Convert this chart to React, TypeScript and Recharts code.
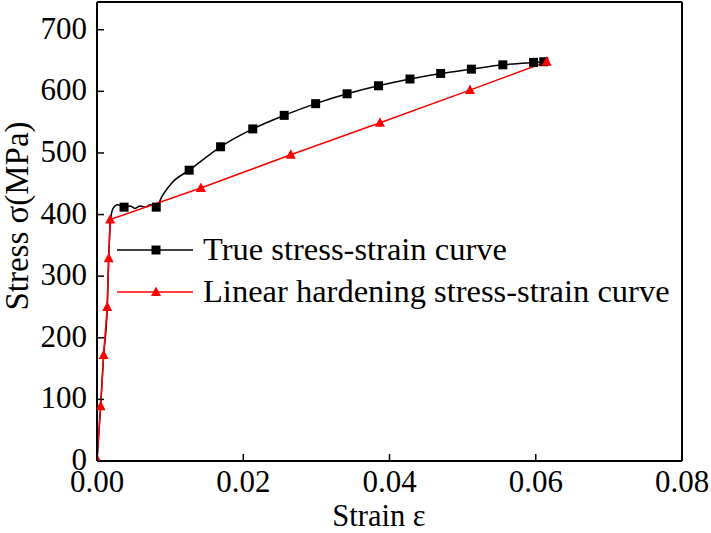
import { LineChart, Line, XAxis, YAxis } from 'recharts';

const strainTicks = [0, 0.02, 0.04, 0.06, 0.08];
const stressTicks = [0, 100, 200, 300, 400, 500, 600, 700];

// true curve
const trueStrain = [
  0, 0.0005, 0.0009, 0.0014, 0.0016, 0.0019, 0.0022, 0.0028, 0.0037, 0.0045,
  0.0052, 0.0059, 0.0066, 0.0073, 0.0081, 0.0089, 0.0102, 0.0126, 0.0169,
  0.0213, 0.0256, 0.0299, 0.0342, 0.0385, 0.0428, 0.047, 0.0512, 0.0555,
  0.0597, 0.0611,
];
const trueStress = [
  0, 90, 170, 250, 330, 395, 410, 416, 412, 414, 410, 414, 412, 416, 412, 430,
  451, 472, 510, 539, 561, 580, 596, 609, 620, 629, 636, 643, 647, 648,
];
// strains where the square symbols sit
const trueSymbols = [
  0.0037, 0.0081, 0.0126, 0.0169, 0.0213, 0.0256, 0.0299, 0.0342, 0.0385,
  0.0428, 0.047, 0.0512, 0.0555, 0.0597, 0.0611,
];

// linear hardening curve
const linStrain = [0, 0.0005, 0.0009, 0.0014, 0.0016, 0.0018, 0.0142, 0.0265, 0.0387, 0.051, 0.0615];
const linStress = [3, 89, 172, 250, 329, 392, 443, 497, 549, 602, 648];

const seriesNames = ['True stress-strain curve', 'Linear hardening stress-strain curve'];

const trueData = trueStrain.map((x, i) => ({ x, y: trueStress[i], mark: trueSymbols.includes(x) }));
const linData = linStrain.map((x, i) => ({ x, y: linStress[i] }));

const FONT = '"Liberation Serif", "Times New Roman", serif';
const TICK_LEN = 7;

const XTick = (props: any) => {
  const { x, y, payload } = props;
  return (
    <g>
      <line x1={x} y1={y} x2={x} y2={y - TICK_LEN} stroke="#000" strokeWidth={1.5} />
      <text x={x} y={y + 31} textAnchor="middle" fontFamily={FONT} fontSize={31} fill="#000">
        {payload.value.toFixed(2)}
      </text>
    </g>
  );
};

const YTick = (props: any) => {
  const { x, y, payload } = props;
  return (
    <g>
      <line x1={x} y1={y} x2={x + TICK_LEN} y2={y} stroke="#000" strokeWidth={1.5} />
      <text x={x - 10} y={y + 9} textAnchor="end" fontFamily={FONT} fontSize={31} fill="#000">
        {payload.value}
      </text>
    </g>
  );
};

const squareDot = (props: any) => {
  const { cx, cy, payload, index } = props;
  if (!payload.mark) return <g key={index} />;
  return <rect key={index} x={cx - 4.5} y={cy - 4.5} width={9} height={9} fill="#000" />;
};

const triangleDot = (props: any) => {
  const { cx, cy, index } = props;
  return (
    <path key={index} d={`M${cx},${cy - 5.5} L${cx + 5},${cy + 4} L${cx - 5},${cy + 4} Z`} fill="#ff0000" />
  );
};

export default function App() {
  return (
    <div style={{ position: 'absolute', left: 0, top: 0, width: 711, height: 533, background: '#fff' }}>
      <LineChart width={711} height={533} margin={{ top: 1, right: 28, bottom: 71, left: 96 }}>
        <XAxis
          type="number"
          dataKey="x"
          domain={[0, 0.08]}
          ticks={strainTicks}
          allowDataOverflow
          height={1}
          tickSize={0}
          tickMargin={0}
          tickLine={false}
          tick={<XTick />}
          axisLine={{ stroke: '#000', strokeWidth: 2 }}
        />
        <XAxis
          xAxisId="top"
          orientation="top"
          type="number"
          domain={[0, 0.08]}
          height={1}
          tick={false}
          tickLine={false}
          axisLine={{ stroke: '#000', strokeWidth: 2 }}
        />
        <YAxis
          type="number"
          domain={[0, 745]}
          ticks={stressTicks}
          allowDataOverflow
          width={1}
          tickSize={0}
          tickMargin={0}
          tickLine={false}
          tick={<YTick />}
          axisLine={{ stroke: '#000', strokeWidth: 2 }}
        />
        <YAxis
          yAxisId="right"
          orientation="right"
          type="number"
          domain={[0, 745]}
          width={1}
          tick={false}
          tickLine={false}
          axisLine={{ stroke: '#000', strokeWidth: 2 }}
        />
        <Line
          data={trueData}
          dataKey="y"
          type="monotone"
          stroke="#000"
          strokeWidth={1.5}
          dot={squareDot}
          activeDot={false}
          isAnimationActive={false}
        />
        <Line
          data={linData}
          dataKey="y"
          type="linear"
          stroke="#ff0000"
          strokeWidth={1.5}
          dot={triangleDot}
          activeDot={false}
          isAnimationActive={false}
        />
      </LineChart>

      {/* axis titles and legend */}
      <svg
        width={711}
        height={533}
        style={{ position: 'absolute', left: 0, top: 0, pointerEvents: 'none' }}
        fontFamily={FONT}
      >
        <text x={28} y={216} transform="rotate(-90 28 216)" textAnchor="middle" fontSize={33} fill="#000">
          Stress σ(MPa)
        </text>
        <text x={379} y={526} textAnchor="middle" fontSize={30.5} fill="#000">
          Strain ε
        </text>

        <line x1={117} y1={250} x2={193} y2={250} stroke="#000" strokeWidth={1.5} />
        <rect x={151.5} y={245.5} width={9} height={9} fill="#000" />
        <text x={203} y={260} fontSize={32.5} fill="#000">
          {seriesNames[0]}
        </text>

        <line x1={117} y1={292} x2={193} y2={292} stroke="#ff0000" strokeWidth={1.5} />
        <path d="M156,286.5 L161,296 L151,296 Z" fill="#ff0000" />
        <text x={203} y={302} fontSize={32.5} fill="#000">
          {seriesNames[1]}
        </text>
      </svg>
    </div>
  );
}
